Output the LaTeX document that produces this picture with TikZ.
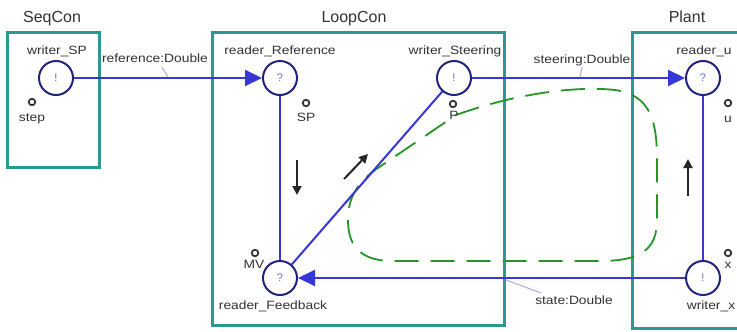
\documentclass[tikz,border=0pt]{standalone}
\usepackage{fontspec}
\setmainfont{Liberation Sans}
\newfontfamily\labfont[FakeStretch=1.15]{Liberation Sans}
\usetikzlibrary{arrows.meta}
\definecolor{teal2}{RGB}{42,153,145}
\definecolor{conblue}{RGB}{55,55,215}
\definecolor{navy2}{RGB}{35,35,125}
\definecolor{txt}{RGB}{50,50,50}
\definecolor{qcol}{RGB}{110,110,190}
\definecolor{lead}{RGB}{170,170,232}
\definecolor{loopgreen}{RGB}{35,150,35}
\begin{document}
\begin{tikzpicture}[x=1pt,y=-1pt,
 capsule/.style={draw=teal2,line width=3pt},
 title/.style={anchor=base,text=txt,font=\fontsize{16}{18}\selectfont,inner sep=0},
 lbl/.style={anchor=base,text=txt,font=\labfont\fontsize{12}{14}\selectfont,inner sep=0},
 port/.style={circle,draw=navy2,line width=2pt,minimum size=34pt,inner sep=0,fill=white,text=qcol,font=\fontsize{11}{13}\selectfont},
 var/.style={circle,draw=black!80,line width=1.8pt,minimum size=6.5pt,inner sep=0},
 conn/.style={draw=conblue,line width=2pt},
 arr/.style={conn,-{Triangle[length=17pt,width=16pt]}},
 flow/.style={draw=black!85,line width=2pt,-{Triangle[length=9pt,width=9pt]}},
 leader/.style={draw=lead,line width=1pt},
 loopline/.style={draw=loopgreen,line width=1.8pt,dash pattern=on 24pt off 12pt}]
\useasboundingbox (0,0) rectangle (737,332);
\clip (0,0) rectangle (737,332);
\fill[white] (0,0) rectangle (737,332);
% capsules
\node[title] (tSeq) at (52,22) {SeqCon};
\node[title] (tLoop) at (354,22) {LoopCon};
\node[title] (tPlant) at (687,22) {Plant};
\draw[capsule] (7,32) rectangle (99,167);
\draw[capsule] (212,32) rectangle (504,325);
\draw[capsule] (632,32) rectangle (760,328);
% green loop
\draw[loopline] (456,115) .. controls (520,92) and (580,86) .. (615,90)
  .. controls (650,95) and (657,120) .. (657,160) -- (657,220)
  .. controls (657,250) and (640,261) .. (600,261) -- (390,261)
  .. controls (355,260) and (348,240) .. (348,220)
  .. controls (348,200) and (355,185) .. (375,170) -- cycle;
% ports
\node[port] (wSP) at (56,78) {!};
\node[port] (rRef) at (280,78) {?};
\node[port] (wSt) at (454,78) {!};
\node[port] (rU) at (703,78) {?};
\node[port] (rFb) at (280,278) {?};
\node[port] (wX) at (703,278) {!};
% port labels
\node[lbl] (lwSP) at (57,54) {writer\_SP};
\node[lbl] (lrRef) at (280,54) {reader\_Reference};
\node[lbl] (lwSt) at (455,54) {writer\_Steering};
\node[lbl] (lrU) at (704,54) {reader\_u};
\node[lbl] (lrFb) at (273,309) {reader\_Feedback};
\node[lbl] (lwX) at (711,309) {writer\_x};
% variables
\node[var] (vstep) at (32,102) {};
\node[lbl] (tstep) at (32,121) {step};
\node[var] (vSP) at (306,103) {};
\node[lbl] (tSP) at (306,121) {SP};
\node[var] (vP) at (453,104) {};
\node[lbl] (tP) at (454,119) {P};
\node[var] (vu) at (728,103) {};
\node[lbl] (tu) at (728,122) {u};
\node[var] (vMV) at (255,253) {};
\node[lbl] (tMV) at (254,268) {MV};
\node[var] (vx) at (728,253) {};
\node[lbl] (tx) at (728,268) {x};
% connectors
\draw[arr] (wSP) -- (rRef);
\draw[arr] (wSt) -- (rU);
\draw[arr] (wX) -- (rFb);
\draw[conn] (rRef) -- (rFb);
\draw[conn] (rFb) -- (wSt);
\draw[conn] (wX) -- (rU);
% connector labels
\node[lbl] (cref) at (155,62) {reference:Double};
\node[lbl] (cst) at (582,63) {steering:Double};
\node[lbl] (cstate) at (574,304) {state:Double};
\coordinate (k1a) at (162,67);
\coordinate (k1b) at (168,77);
\coordinate (k2a) at (582,67);
\coordinate (k2b) at (580,77);
\coordinate (k3a) at (506,280);
\coordinate (k3b) at (541,293);
\draw[leader] (k1a) -- (k1b);
\draw[leader] (k2a) -- (k2b);
\draw[leader] (k3a) -- (k3b);
% flow arrows
\coordinate (f1s) at (297,160);
\coordinate (f1e) at (297,195);
\coordinate (f2s) at (344,179);
\coordinate (f2e) at (368,154);
\coordinate (f3s) at (688,196);
\coordinate (f3e) at (688,159);
\draw[flow] (f1s) -- (f1e);
\draw[flow] (f2s) -- (f2e);
\draw[flow] (f3s) -- (f3e);
\end{tikzpicture}
\end{document}
